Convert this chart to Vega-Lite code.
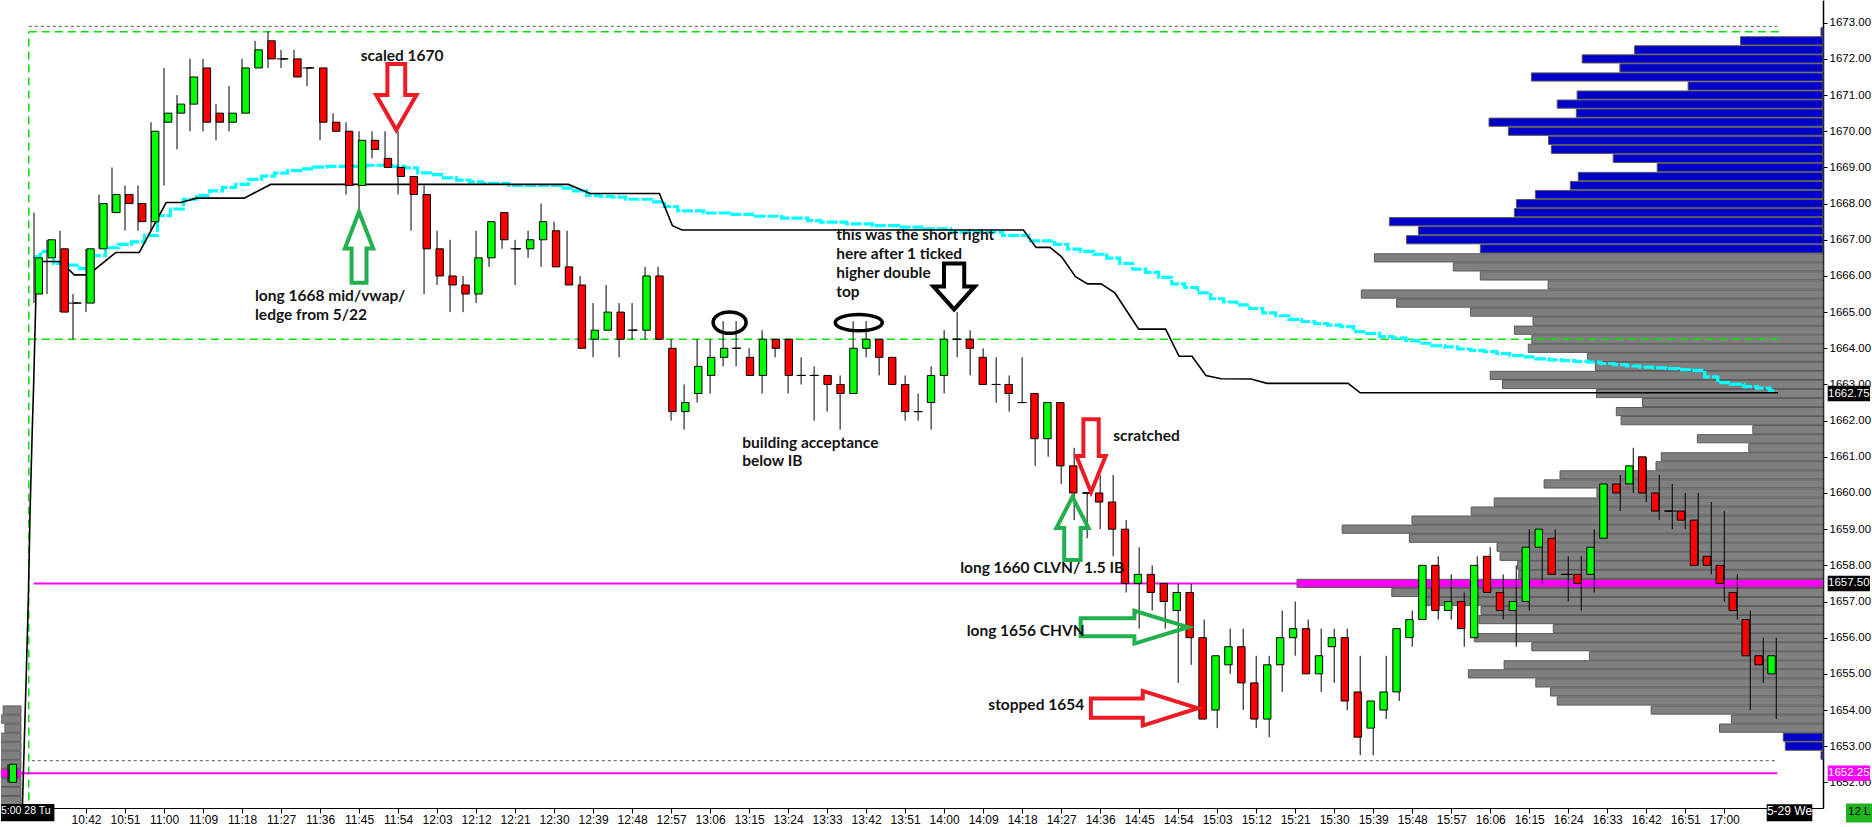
{
  "$schema": "https://vega.github.io/schema/vega-lite/v6.json",
  "width": 1822,
  "height": 808,
  "padding": 0,
  "autosize": {"type": "pad"},
  "background": "#ffffff",
  "config": {
    "view": {"stroke": null},
    "axis": {"grid": false, "domainColor": "#000000", "domainWidth": 1, "tickColor": "#000000", "tickSize": 5, "labelColor": "#000000", "labelFont": "Liberation Sans", "labelFontSize": 12, "labelPadding": 1, "labelOverlap": false},
    "axisY": {"tickCount": 22, "labelOverlap": false, "domainWidth": 1.5}
  },
  "datasets": {
    "candles": [
      {"t":624,"o":1652.0,"h":1652.5,"l":1652.0,"c":1652.5},
      {"t":630,"o":1665.5,"h":1667.75,"l":1665.25,"c":1666.5},
      {"t":633,"o":1666.5,"h":1667.0,"l":1665.5,"c":1667.0},
      {"t":636,"o":1666.75,"h":1667.25,"l":1665.0,"c":1665.0},
      {"t":639,"o":1665.25,"h":1665.5,"l":1664.25,"c":1665.25},
      {"t":642,"o":1665.25,"h":1666.75,"l":1665.0,"c":1666.75},
      {"t":645,"o":1666.75,"h":1668.25,"l":1666.75,"c":1668.0},
      {"t":648,"o":1667.75,"h":1669.0,"l":1667.75,"c":1668.25},
      {"t":651,"o":1668.25,"h":1668.5,"l":1667.25,"c":1668.0},
      {"t":654,"o":1668.0,"h":1668.5,"l":1667.25,"c":1667.5},
      {"t":657,"o":1667.5,"h":1670.25,"l":1667.25,"c":1670.0},
      {"t":660,"o":1670.25,"h":1671.75,"l":1668.5,"c":1670.5},
      {"t":663,"o":1670.5,"h":1671.0,"l":1669.5,"c":1670.75},
      {"t":666,"o":1670.75,"h":1672.0,"l":1670.0,"c":1671.5},
      {"t":669,"o":1671.75,"h":1672.0,"l":1670.0,"c":1670.25},
      {"t":672,"o":1670.5,"h":1670.75,"l":1669.75,"c":1670.25},
      {"t":675,"o":1670.25,"h":1671.25,"l":1670.0,"c":1670.5},
      {"t":678,"o":1670.5,"h":1672.0,"l":1670.5,"c":1671.75},
      {"t":681,"o":1671.75,"h":1672.5,"l":1671.75,"c":1672.25},
      {"t":684,"o":1672.5,"h":1672.75,"l":1671.75,"c":1672.0},
      {"t":687,"o":1672.0,"h":1672.25,"l":1671.75,"c":1672.0},
      {"t":690,"o":1672.0,"h":1672.25,"l":1671.5,"c":1671.5},
      {"t":693,"o":1671.75,"h":1671.75,"l":1671.25,"c":1671.75},
      {"t":696,"o":1671.75,"h":1671.75,"l":1669.75,"c":1670.25},
      {"t":699,"o":1670.25,"h":1670.5,"l":1670.0,"c":1670.0},
      {"t":702,"o":1670.0,"h":1670.25,"l":1668.25,"c":1668.5},
      {"t":705,"o":1668.5,"h":1670.0,"l":1667.75,"c":1669.75},
      {"t":708,"o":1669.75,"h":1670.0,"l":1669.25,"c":1669.5},
      {"t":711,"o":1669.25,"h":1670.0,"l":1669.0,"c":1669.0},
      {"t":714,"o":1669.0,"h":1670.0,"l":1668.25,"c":1668.75},
      {"t":717,"o":1668.75,"h":1668.75,"l":1667.25,"c":1668.25},
      {"t":720,"o":1668.25,"h":1668.5,"l":1665.5,"c":1666.75},
      {"t":723,"o":1666.75,"h":1667.25,"l":1665.75,"c":1666.0},
      {"t":726,"o":1666.0,"h":1667.0,"l":1665.0,"c":1665.75},
      {"t":729,"o":1665.75,"h":1666.0,"l":1665.0,"c":1665.5},
      {"t":732,"o":1665.5,"h":1667.25,"l":1665.25,"c":1666.5},
      {"t":735,"o":1666.5,"h":1667.5,"l":1666.25,"c":1667.5},
      {"t":738,"o":1667.75,"h":1667.75,"l":1666.75,"c":1667.0},
      {"t":741,"o":1666.75,"h":1667.0,"l":1665.75,"c":1666.75},
      {"t":744,"o":1666.75,"h":1667.25,"l":1666.5,"c":1667.0},
      {"t":747,"o":1667.0,"h":1668.0,"l":1666.25,"c":1667.5},
      {"t":750,"o":1667.25,"h":1667.5,"l":1666.25,"c":1666.25},
      {"t":753,"o":1666.25,"h":1667.25,"l":1665.75,"c":1665.75},
      {"t":756,"o":1665.75,"h":1666.0,"l":1664.0,"c":1664.0},
      {"t":759,"o":1664.25,"h":1665.25,"l":1663.75,"c":1664.5},
      {"t":762,"o":1664.5,"h":1665.75,"l":1664.5,"c":1665.0},
      {"t":765,"o":1665.0,"h":1665.25,"l":1663.75,"c":1664.25},
      {"t":768,"o":1664.5,"h":1665.25,"l":1664.25,"c":1664.5},
      {"t":771,"o":1664.5,"h":1666.25,"l":1664.25,"c":1666.0},
      {"t":774,"o":1666.0,"h":1666.25,"l":1664.25,"c":1664.25},
      {"t":777,"o":1664.0,"h":1664.25,"l":1662.0,"c":1662.25},
      {"t":780,"o":1662.25,"h":1663.0,"l":1661.75,"c":1662.5},
      {"t":783,"o":1662.75,"h":1664.25,"l":1662.5,"c":1663.5},
      {"t":786,"o":1663.25,"h":1664.25,"l":1662.75,"c":1663.75},
      {"t":789,"o":1663.75,"h":1664.75,"l":1663.5,"c":1664.0},
      {"t":792,"o":1664.0,"h":1664.75,"l":1663.5,"c":1664.0},
      {"t":795,"o":1663.75,"h":1664.0,"l":1663.25,"c":1663.25},
      {"t":798,"o":1663.25,"h":1664.5,"l":1662.75,"c":1664.25},
      {"t":801,"o":1664.25,"h":1664.25,"l":1663.75,"c":1664.0},
      {"t":804,"o":1664.25,"h":1664.25,"l":1662.75,"c":1663.25},
      {"t":807,"o":1663.25,"h":1663.75,"l":1663.0,"c":1663.25},
      {"t":810,"o":1663.25,"h":1663.5,"l":1662.0,"c":1663.25},
      {"t":813,"o":1663.25,"h":1663.25,"l":1662.25,"c":1663.0},
      {"t":816,"o":1663.0,"h":1663.25,"l":1661.75,"c":1662.75},
      {"t":819,"o":1662.75,"h":1664.75,"l":1662.75,"c":1664.0},
      {"t":822,"o":1664.0,"h":1664.75,"l":1663.75,"c":1664.25},
      {"t":825,"o":1664.25,"h":1664.25,"l":1663.25,"c":1663.75},
      {"t":828,"o":1663.75,"h":1663.75,"l":1663.0,"c":1663.0},
      {"t":831,"o":1663.0,"h":1663.25,"l":1662.0,"c":1662.25},
      {"t":834,"o":1662.25,"h":1662.75,"l":1662.0,"c":1662.25},
      {"t":837,"o":1662.5,"h":1663.5,"l":1661.75,"c":1663.25},
      {"t":840,"o":1663.25,"h":1664.5,"l":1662.75,"c":1664.25},
      {"t":843,"o":1664.25,"h":1665.0,"l":1663.75,"c":1664.25},
      {"t":846,"o":1664.25,"h":1664.5,"l":1663.25,"c":1664.0},
      {"t":849,"o":1663.75,"h":1664.0,"l":1663.0,"c":1663.0},
      {"t":852,"o":1663.0,"h":1663.75,"l":1662.5,"c":1663.0},
      {"t":855,"o":1663.0,"h":1663.25,"l":1662.25,"c":1662.75},
      {"t":858,"o":1662.5,"h":1663.75,"l":1662.5,"c":1662.5},
      {"t":861,"o":1662.75,"h":1662.75,"l":1660.75,"c":1661.5},
      {"t":864,"o":1661.5,"h":1662.5,"l":1661.0,"c":1662.5},
      {"t":867,"o":1662.5,"h":1662.5,"l":1660.25,"c":1660.75},
      {"t":870,"o":1660.75,"h":1661.25,"l":1659.25,"c":1660.0},
      {"t":873,"o":1660.0,"h":1660.0,"l":1658.75,"c":1660.0},
      {"t":876,"o":1660.0,"h":1660.5,"l":1659.0,"c":1659.75},
      {"t":879,"o":1659.75,"h":1660.5,"l":1658.25,"c":1659.0},
      {"t":882,"o":1659.0,"h":1659.25,"l":1657.25,"c":1657.5},
      {"t":885,"o":1657.5,"h":1658.5,"l":1656.25,"c":1657.75},
      {"t":888,"o":1657.75,"h":1658.0,"l":1656.75,"c":1657.25},
      {"t":891,"o":1657.5,"h":1657.5,"l":1656.25,"c":1657.0},
      {"t":894,"o":1656.75,"h":1657.5,"l":1654.75,"c":1657.25},
      {"t":897,"o":1657.25,"h":1657.5,"l":1655.25,"c":1656.0},
      {"t":900,"o":1656.0,"h":1656.5,"l":1653.75,"c":1653.75},
      {"t":903,"o":1654.0,"h":1655.5,"l":1653.5,"c":1655.5},
      {"t":906,"o":1655.25,"h":1656.25,"l":1655.0,"c":1655.75},
      {"t":909,"o":1655.75,"h":1656.25,"l":1654.0,"c":1654.75},
      {"t":912,"o":1654.75,"h":1655.5,"l":1653.5,"c":1653.75},
      {"t":915,"o":1653.75,"h":1655.5,"l":1653.25,"c":1655.25},
      {"t":918,"o":1655.25,"h":1656.75,"l":1654.5,"c":1656.0},
      {"t":921,"o":1656.0,"h":1657.0,"l":1655.5,"c":1656.25},
      {"t":924,"o":1656.25,"h":1656.5,"l":1655.0,"c":1655.0},
      {"t":927,"o":1655.0,"h":1656.25,"l":1654.5,"c":1655.5},
      {"t":930,"o":1655.75,"h":1656.25,"l":1654.75,"c":1656.0},
      {"t":933,"o":1656.0,"h":1656.25,"l":1654.0,"c":1654.25},
      {"t":936,"o":1654.5,"h":1655.5,"l":1652.75,"c":1653.25},
      {"t":939,"o":1653.5,"h":1654.25,"l":1652.75,"c":1654.25},
      {"t":942,"o":1654.0,"h":1655.5,"l":1653.75,"c":1654.5},
      {"t":945,"o":1654.5,"h":1656.25,"l":1654.25,"c":1656.25},
      {"t":948,"o":1656.0,"h":1656.75,"l":1655.75,"c":1656.5},
      {"t":951,"o":1656.5,"h":1658.0,"l":1656.5,"c":1658.0},
      {"t":954,"o":1658.0,"h":1658.25,"l":1656.5,"c":1656.75},
      {"t":957,"o":1656.75,"h":1657.75,"l":1656.5,"c":1657.0},
      {"t":960,"o":1657.0,"h":1657.25,"l":1655.75,"c":1656.25},
      {"t":963,"o":1656.0,"h":1658.25,"l":1656.0,"c":1658.0},
      {"t":966,"o":1658.25,"h":1658.5,"l":1657.25,"c":1657.25},
      {"t":969,"o":1657.25,"h":1657.75,"l":1656.5,"c":1656.75},
      {"t":972,"o":1656.75,"h":1658.0,"l":1655.75,"c":1657.0},
      {"t":975,"o":1657.0,"h":1659.0,"l":1656.75,"c":1658.5},
      {"t":978,"o":1658.5,"h":1659.0,"l":1657.5,"c":1659.0},
      {"t":981,"o":1658.75,"h":1659.0,"l":1657.75,"c":1657.75},
      {"t":984,"o":1657.75,"h":1658.25,"l":1657.0,"c":1657.75},
      {"t":987,"o":1657.75,"h":1658.25,"l":1656.75,"c":1657.5},
      {"t":990,"o":1657.75,"h":1659.0,"l":1657.25,"c":1658.5},
      {"t":993,"o":1658.75,"h":1660.25,"l":1658.75,"c":1660.25},
      {"t":996,"o":1660.25,"h":1660.5,"l":1659.5,"c":1660.0},
      {"t":999,"o":1660.25,"h":1661.25,"l":1660.0,"c":1660.75},
      {"t":1002,"o":1661.0,"h":1661.0,"l":1659.75,"c":1660.0},
      {"t":1005,"o":1660.0,"h":1660.5,"l":1659.25,"c":1659.5},
      {"t":1008,"o":1659.5,"h":1660.25,"l":1659.0,"c":1659.5},
      {"t":1011,"o":1659.5,"h":1660.0,"l":1659.0,"c":1659.25},
      {"t":1014,"o":1659.25,"h":1660.0,"l":1658.0,"c":1658.0},
      {"t":1017,"o":1658.25,"h":1659.75,"l":1657.75,"c":1658.0},
      {"t":1020,"o":1658.0,"h":1659.5,"l":1657.0,"c":1657.5},
      {"t":1023,"o":1657.25,"h":1657.75,"l":1656.5,"c":1656.75},
      {"t":1026,"o":1656.5,"h":1656.75,"l":1654.0,"c":1655.5},
      {"t":1029,"o":1655.5,"h":1656.0,"l":1654.75,"c":1655.25},
      {"t":1032,"o":1655.0,"h":1656.0,"l":1653.75,"c":1655.5}
    ],
    "cyan": [
      {"t":630,"p":1666.53},{"t":633,"p":1666.67},{"t":636,"p":1666.35},{"t":639,"p":1666.3},{"t":642,"p":1666.2},
      {"t":645,"p":1666.56},{"t":648,"p":1666.78},{"t":651,"p":1666.87},{"t":654,"p":1666.94},{"t":657,"p":1667.12},
      {"t":660,"p":1667.67},{"t":663,"p":1667.85},{"t":666,"p":1668.12},{"t":669,"p":1668.23},{"t":672,"p":1668.35},
      {"t":675,"p":1668.45},{"t":678,"p":1668.53},{"t":681,"p":1668.67},{"t":684,"p":1668.76},{"t":687,"p":1668.84},
      {"t":690,"p":1668.91},{"t":693,"p":1668.96},{"t":696,"p":1669.01},{"t":699,"p":1669.03},{"t":702,"p":1669.03},
      {"t":705,"p":1669.03},{"t":708,"p":1669.06},{"t":711,"p":1669.06},{"t":714,"p":1669.03},{"t":717,"p":1668.99},
      {"t":720,"p":1668.85},{"t":723,"p":1668.8},{"t":726,"p":1668.71},{"t":729,"p":1668.65},{"t":732,"p":1668.6},
      {"t":735,"p":1668.56},{"t":738,"p":1668.56},{"t":741,"p":1668.5},{"t":744,"p":1668.5},{"t":747,"p":1668.5},
      {"t":750,"p":1668.5},{"t":753,"p":1668.43},{"t":756,"p":1668.35},{"t":759,"p":1668.23},{"t":762,"p":1668.2},
      {"t":765,"p":1668.18},{"t":768,"p":1668.12},{"t":771,"p":1668.12},{"t":774,"p":1668.05},{"t":777,"p":1667.92},
      {"t":780,"p":1667.8},{"t":783,"p":1667.8},{"t":786,"p":1667.74},{"t":789,"p":1667.74},{"t":792,"p":1667.7},
      {"t":795,"p":1667.7},{"t":798,"p":1667.65},{"t":801,"p":1667.65},{"t":804,"p":1667.6},{"t":807,"p":1667.6},
      {"t":810,"p":1667.53},{"t":813,"p":1667.49},{"t":816,"p":1667.49},{"t":819,"p":1667.44},{"t":822,"p":1667.44},
      {"t":825,"p":1667.39},{"t":828,"p":1667.39},{"t":831,"p":1667.35},{"t":834,"p":1667.35},{"t":837,"p":1667.3},
      {"t":840,"p":1667.3},{"t":843,"p":1667.21},{"t":846,"p":1667.21},{"t":849,"p":1667.21},{"t":852,"p":1667.21},
      {"t":855,"p":1667.12},{"t":858,"p":1667.12},{"t":861,"p":1666.97},{"t":864,"p":1666.97},{"t":867,"p":1666.87},
      {"t":870,"p":1666.74},{"t":873,"p":1666.68},{"t":876,"p":1666.6},{"t":879,"p":1666.49},{"t":882,"p":1666.35},
      {"t":885,"p":1666.19},{"t":888,"p":1666.1},{"t":891,"p":1665.96},{"t":894,"p":1665.78},{"t":897,"p":1665.68},
      {"t":900,"p":1665.53},{"t":903,"p":1665.37},{"t":906,"p":1665.28},{"t":909,"p":1665.2},{"t":912,"p":1665.1},
      {"t":915,"p":1664.98},{"t":918,"p":1664.9},{"t":921,"p":1664.8},{"t":924,"p":1664.74},{"t":927,"p":1664.68},
      {"t":930,"p":1664.64},{"t":933,"p":1664.6},{"t":936,"p":1664.46},{"t":939,"p":1664.41},{"t":942,"p":1664.32},
      {"t":945,"p":1664.28},{"t":948,"p":1664.21},{"t":951,"p":1664.14},{"t":954,"p":1664.07},{"t":957,"p":1664.04},
      {"t":960,"p":1663.98},{"t":963,"p":1663.94},{"t":966,"p":1663.91},{"t":969,"p":1663.85},{"t":972,"p":1663.8},
      {"t":975,"p":1663.76},{"t":978,"p":1663.71},{"t":981,"p":1663.68},{"t":984,"p":1663.66},{"t":987,"p":1663.64},
      {"t":990,"p":1663.62},{"t":993,"p":1663.58},{"t":996,"p":1663.55},{"t":999,"p":1663.51},{"t":1002,"p":1663.48},
      {"t":1005,"p":1663.46},{"t":1008,"p":1663.44},{"t":1011,"p":1663.41},{"t":1014,"p":1663.39},{"t":1017,"p":1663.21},
      {"t":1020,"p":1663.05},{"t":1023,"p":1663.01},{"t":1026,"p":1662.94},{"t":1029,"p":1662.9},{"t":1032,"p":1662.83}
    ],
    "blackline": [
      {"t":627.3,"p":1651.2},{"t":628.2,"p":1654.9},{"t":628.7,"p":1657.1},{"t":629.1,"p":1659.5},{"t":629.6,"p":1661.75},
      {"t":629.9,"p":1662.9},{"t":630.4,"p":1665.25},{"t":630.6,"p":1666.4},{"t":636.1,"p":1666.4},{"t":639.3,"p":1666.03},
      {"t":642.5,"p":1666.03},{"t":648.9,"p":1666.65},{"t":654.3,"p":1666.65},{"t":660.5,"p":1668.03},{"t":663.9,"p":1668.03},
      {"t":667.5,"p":1668.15},{"t":678.5,"p":1668.15},{"t":684.6,"p":1668.53},{"t":753.3,"p":1668.53},{"t":758.3,"p":1668.28},
      {"t":774.3,"p":1668.28},{"t":777.3,"p":1667.39},{"t":779.5,"p":1667.27},{"t":858.3,"p":1667.27},{"t":861.2,"p":1666.79},
      {"t":864.4,"p":1666.79},{"t":867.1,"p":1666.53},{"t":870.3,"p":1665.98},{"t":873.1,"p":1665.78},{"t":876.2,"p":1665.78},
      {"t":879.4,"p":1665.53},{"t":884.9,"p":1664.53},{"t":891.1,"p":1664.53},{"t":894.2,"p":1663.78},{"t":897.2,"p":1663.78},
      {"t":900.4,"p":1663.25},{"t":903.9,"p":1663.16},{"t":910.8,"p":1663.15},{"t":914.5,"p":1663.03},{"t":933.2,"p":1663.03},
      {"t":936.0,"p":1662.77},{"t":1032.4,"p":1662.77}
    ],
    "profile": [
      {"price":1672.75,"vol":20,"zone":"out"},{"price":1672.5,"vol":825,"zone":"out"},{"price":1672.25,"vol":1884,"zone":"out"},
      {"price":1672.0,"vol":2408,"zone":"out"},{"price":1671.75,"vol":2031,"zone":"out"},{"price":1671.5,"vol":2916,"zone":"out"},
      {"price":1671.25,"vol":1349,"zone":"out"},{"price":1671.0,"vol":2459,"zone":"out"},{"price":1670.75,"vol":2658,"zone":"out"},
      {"price":1670.5,"vol":2467,"zone":"out"},{"price":1670.25,"vol":3340,"zone":"out"},{"price":1670.0,"vol":3146,"zone":"out"},
      {"price":1669.75,"vol":2745,"zone":"out"},{"price":1669.5,"vol":2717,"zone":"out"},{"price":1669.25,"vol":2098,"zone":"out"},
      {"price":1669.0,"vol":1658,"zone":"out"},{"price":1668.75,"vol":2447,"zone":"out"},{"price":1668.5,"vol":2527,"zone":"out"},
      {"price":1668.25,"vol":2876,"zone":"out"},{"price":1668.0,"vol":3066,"zone":"out"},{"price":1667.75,"vol":3086,"zone":"out"},
      {"price":1667.5,"vol":4336,"zone":"out"},{"price":1667.25,"vol":4046,"zone":"out"},{"price":1667.0,"vol":4165,"zone":"out"},
      {"price":1666.75,"vol":3427,"zone":"out"},
      {"price":1666.5,"vol":4486,"zone":"va"},{"price":1666.25,"vol":3697,"zone":"va"},{"price":1666.0,"vol":3427,"zone":"va"},
      {"price":1665.75,"vol":2749,"zone":"va"},{"price":1665.5,"vol":4617,"zone":"va"},{"price":1665.25,"vol":4264,"zone":"va"},
      {"price":1665.0,"vol":3526,"zone":"va"},{"price":1664.75,"vol":2900,"zone":"va"},{"price":1664.5,"vol":3086,"zone":"va"},
      {"price":1664.25,"vol":2912,"zone":"va"},{"price":1664.0,"vol":2947,"zone":"va"},{"price":1663.75,"vol":2356,"zone":"va"},
      {"price":1663.5,"vol":2277,"zone":"va"},{"price":1663.25,"vol":3328,"zone":"va"},{"price":1663.0,"vol":3205,"zone":"va"},
      {"price":1662.75,"vol":2265,"zone":"va"},{"price":1662.5,"vol":1805,"zone":"va"},{"price":1662.25,"vol":2067,"zone":"va"},
      {"price":1662.0,"vol":2019,"zone":"va"},{"price":1661.75,"vol":702,"zone":"va"},{"price":1661.5,"vol":1257,"zone":"va"},
      {"price":1661.25,"vol":742,"zone":"va"},{"price":1661.0,"vol":1618,"zone":"va"},{"price":1660.75,"vol":1670,"zone":"va"},
      {"price":1660.5,"vol":2630,"zone":"va"},{"price":1660.25,"vol":2789,"zone":"va"},{"price":1660.0,"vol":2261,"zone":"va"},
      {"price":1659.75,"vol":3288,"zone":"va"},{"price":1659.5,"vol":3518,"zone":"va"},{"price":1659.25,"vol":4110,"zone":"va"},
      {"price":1659.0,"vol":4808,"zone":"va"},{"price":1658.75,"vol":4137,"zone":"va"},{"price":1658.5,"vol":3260,"zone":"va"},
      {"price":1658.25,"vol":3229,"zone":"va"},{"price":1658.0,"vol":3054,"zone":"va"},{"price":1657.75,"vol":3042,"zone":"va"},
      {"price":1657.5,"vol":5260,"zone":"poc"},{"price":1657.25,"vol":4312,"zone":"va"},{"price":1657.0,"vol":4034,"zone":"va"},
      {"price":1656.75,"vol":3420,"zone":"va"},{"price":1656.5,"vol":3440,"zone":"va"},{"price":1656.25,"vol":2697,"zone":"va"},
      {"price":1656.0,"vol":3487,"zone":"va"},{"price":1655.75,"vol":2912,"zone":"va"},{"price":1655.5,"vol":2336,"zone":"va"},
      {"price":1655.25,"vol":3189,"zone":"va"},{"price":1655.0,"vol":3546,"zone":"va"},{"price":1654.75,"vol":2872,"zone":"va"},
      {"price":1654.5,"vol":2725,"zone":"va"},{"price":1654.25,"vol":2658,"zone":"va"},{"price":1654.0,"vol":1718,"zone":"va"},
      {"price":1653.75,"vol":916,"zone":"va"},{"price":1653.5,"vol":1035,"zone":"va"},
      {"price":1653.25,"vol":397,"zone":"out"},{"price":1653.0,"vol":377,"zone":"out"},{"price":1652.75,"vol":20,"zone":"out"}
    ],
    "leftprof": [
      {"price":1654.0,"t0":622.9,"t1":627.0,"zone":"va"},{"price":1653.75,"t0":622.0,"t1":627.0,"zone":"va"},
      {"price":1653.5,"t0":623.3,"t1":627.0,"zone":"va"},{"price":1653.25,"t0":622.0,"t1":627.0,"zone":"va"},
      {"price":1653.0,"t0":622.0,"t1":627.0,"zone":"va"},{"price":1652.75,"t0":622.0,"t1":627.0,"zone":"va"},
      {"price":1652.5,"t0":622.0,"t1":627.0,"zone":"va"},{"price":1652.25,"t0":622.0,"t1":627.0,"zone":"poc"},
      {"price":1652.0,"t0":622.0,"t1":627.0,"zone":"va"},{"price":1651.75,"t0":622.0,"t1":627.0,"zone":"va"},
      {"price":1651.5,"t0":622.0,"t1":627.0,"zone":"va"}
    ],
    "hlines": [
      {"kind":"green","p":1672.75,"t0":628.8,"t1":1033.3},
      {"kind":"green","p":1664.25,"t0":628.8,"t1":1033.3},
      {"kind":"gray","p":1672.9,"t0":628.8,"t1":1032.2},
      {"kind":"gray","p":1652.6,"t0":629.5,"t1":1032.2},
      {"kind":"magenta","p":1652.25,"t0":622.39,"t1":1032.2},
      {"kind":"magenta","p":1657.5,"t0":630.0,"t1":921.4}
    ],
    "notes": [
      {"t":705.4,"p":1671.94,"txt":"scaled 1670"},
      {"t":681.0,"p":1665.3,"txt":"long 1668 mid/vwap/"},
      {"t":681.0,"p":1664.78,"txt":"ledge from 5/22"},
      {"t":815.1,"p":1666.99,"txt":"this was the short right"},
      {"t":815.1,"p":1666.47,"txt":"here after 1 ticked"},
      {"t":815.1,"p":1665.94,"txt":"higher double"},
      {"t":815.1,"p":1665.41,"txt":"top"},
      {"t":793.4,"p":1661.25,"txt":"building acceptance"},
      {"t":793.4,"p":1660.75,"txt":"below IB"},
      {"t":879.0,"p":1661.43,"txt":"scratched"},
      {"t":843.7,"p":1657.78,"txt":"long 1660 CLVN/ 1.5 IB"},
      {"t":845.2,"p":1656.05,"txt":"long 1656 CHVN"},
      {"t":850.2,"p":1654.0,"txt":"stopped 1654"}
    ],
    "tags": [
      {"p":1662.75,"txt":"1662.75","bg":"black"},
      {"p":1657.5,"txt":"1657.50","bg":"black"},
      {"p":1652.25,"txt":"1652.25","bg":"magenta"}
    ]
  },
  "layer": [
    {
      "data": {"name": "profile"},
      "mark": {"type": "bar", "size": 8.2, "stroke": "#5a5a5a", "strokeWidth": 1},
      "encoding": {
        "x": {"field": "vol", "type": "quantitative", "scale": {"domain": [0, 18220], "reverse": true, "nice": false, "zero": false}, "axis": null},
        "x2": {"datum": 0},
        "y": {"field": "price", "type": "quantitative", "scale": {"domain": [1651.43, 1673.49], "nice": false, "zero": false}, "title": null,
              "axis": {"title": null, "orient": "right", "values": [1652,1653,1654,1655,1656,1657,1658,1659,1660,1661,1662,1663,1664,1665,1666,1667,1668,1669,1670,1671,1672,1673], "tickCount": 22, "format": ".2f", "tickSize": 4, "labelPadding": 2, "labelFontSize": 11.5, "labelOverlap": false}},
        "color": {"field": "zone", "type": "nominal", "scale": {"domain": ["out", "va", "poc"], "range": ["#0000C8", "#808080", "#FF00FF"]}, "legend": null}
      }
    },
    {
      "data": {"name": "leftprof"},
      "mark": {"type": "bar", "size": 8.2, "stroke": "#5a5a5a", "strokeWidth": 1, "clip": true},
      "encoding": {
        "x": {"field": "t0", "type": "quantitative", "scale": {"domain": [622.39, 1042.78], "nice": false, "zero": false}, "axis": null},
        "x2": {"field": "t1"},
        "y": {"field": "price", "type": "quantitative", "title": null},
        "color": {"field": "zone", "type": "nominal", "scale": {"domain": ["out", "va", "poc"], "range": ["#0000C8", "#808080", "#FF00FF"]}, "legend": null}
      }
    },
    {
      "data": {"values": [{"t": 628.8, "p0": 1651.5, "p1": 1672.75}]},
      "mark": {"type": "rule", "color": "#00E400", "strokeWidth": 1.5, "strokeDash": [8, 5]},
      "encoding": {
        "x": {"field": "t", "type": "quantitative", "scale": {"domain": [622.39, 1042.78], "nice": false, "zero": false}, "axis": null},
        "y": {"field": "p0", "type": "quantitative", "title": null},
        "y2": {"field": "p1"}
      }
    },
    {
      "data": {"name": "hlines"},
      "transform": [{"filter": "datum.kind == 'green'"}],
      "mark": {"type": "rule", "color": "#00E400", "strokeWidth": 1.5, "strokeDash": [8, 5]},
      "encoding": {
        "x": {"field": "t0", "type": "quantitative", "scale": {"domain": [622.39, 1042.78], "nice": false, "zero": false}, "axis": null},
        "x2": {"field": "t1"},
        "y": {"field": "p", "type": "quantitative", "title": null}
      }
    },
    {
      "data": {"name": "hlines"},
      "transform": [{"filter": "datum.kind == 'gray'"}],
      "mark": {"type": "rule", "color": "#555555", "strokeWidth": 1, "strokeDash": [3, 3]},
      "encoding": {
        "x": {"field": "t0", "type": "quantitative", "scale": {"domain": [622.39, 1042.78], "nice": false, "zero": false}, "axis": null},
        "x2": {"field": "t1"},
        "y": {"field": "p", "type": "quantitative", "title": null}
      }
    },
    {
      "data": {"name": "hlines"},
      "transform": [{"filter": "datum.kind == 'magenta'"}],
      "mark": {"type": "rule", "color": "#FF00FF", "strokeWidth": 2},
      "encoding": {
        "x": {"field": "t0", "type": "quantitative", "scale": {"domain": [622.39, 1042.78], "nice": false, "zero": false}, "axis": null},
        "x2": {"field": "t1"},
        "y": {"field": "p", "type": "quantitative", "title": null}
      }
    },
    {
      "data": {"name": "cyan"},
      "mark": {"type": "line", "color": "#00FFFF", "strokeWidth": 3.2, "strokeDash": [11, 2], "interpolate": "step"},
      "encoding": {
        "x": {"field": "t", "type": "quantitative", "scale": {"domain": [622.39, 1042.78], "nice": false, "zero": false}, "axis": null},
        "y": {"field": "p", "type": "quantitative", "title": null}
      }
    },
    {
      "data": {"name": "blackline"},
      "mark": {"type": "line", "color": "#000000", "strokeWidth": 1.6, "clip": true},
      "encoding": {
        "x": {"field": "t", "type": "quantitative", "scale": {"domain": [622.39, 1042.78], "nice": false, "zero": false}, "axis": null},
        "y": {"field": "p", "type": "quantitative", "title": null}
      }
    },
    {
      "data": {"name": "candles"},
      "mark": {"type": "rule", "color": "#000000", "strokeWidth": 1},
      "encoding": {
        "x": {"field": "t", "type": "quantitative", "scale": {"domain": [622.39, 1042.78], "nice": false, "zero": false},
              "axis": {"title": null, "orient": "bottom", "values": [642,651,660,669,678,687,696,705,714,723,732,741,750,759,768,777,786,795,804,813,822,831,840,849,858,867,876,885,894,903,912,921,930,939,948,957,966,975,984,993,1002,1011,1020],
                       "labelExpr": "floor(datum.value / 60) + ':' + (datum.value % 60 < 10 ? '0' : '') + (datum.value % 60)", "labelFlush": false, "labelOverlap": false}},
        "y": {"field": "l", "type": "quantitative", "scale": {"domain": [1651.43, 1673.49], "nice": false, "zero": false}, "title": null,
              "axis": {"title": null, "orient": "right", "values": [1652,1653,1654,1655,1656,1657,1658,1659,1660,1661,1662,1663,1664,1665,1666,1667,1668,1669,1670,1671,1672,1673], "tickCount": 22, "format": ".2f", "tickSize": 4, "labelPadding": 2, "labelFontSize": 11.5, "labelOverlap": false}},
        "y2": {"field": "h"}
      }
    },
    {
      "data": {"name": "candles"},
      "mark": {"type": "bar", "size": 7.4, "stroke": "#000000", "strokeWidth": 1},
      "encoding": {
        "x": {"field": "t", "type": "quantitative", "scale": {"domain": [622.39, 1042.78], "nice": false, "zero": false}, "axis": null},
        "y": {"field": "o", "type": "quantitative", "title": null},
        "y2": {"field": "c"},
        "color": {"condition": {"test": "datum.c > datum.o", "value": "#00FF00"}, "value": "#FF0000"}
      }
    },
    {
      "data": {"name": "candles"},
      "transform": [{"filter": "datum.o == datum.c"}],
      "mark": {"type": "tick", "orient": "horizontal", "size": 9, "thickness": 1, "color": "#000000", "opacity": 1},
      "encoding": {
        "x": {"field": "t", "type": "quantitative", "scale": {"domain": [622.39, 1042.78], "nice": false, "zero": false}, "axis": null},
        "y": {"field": "c", "type": "quantitative", "title": null}
      }
    },
    {
      "data": {"values": [{"t": 713.6, "p": 1670.95}]},
      "mark": {"type": "point", "shape": "M -0.27 -1 L 0.27 -1 L 0.27 -0.06 L 0.61 -0.06 L 0 1 L -0.61 -0.06 L -0.27 -0.06 Z", "size": 4356, "filled": false, "stroke": "#ED1C24", "strokeWidth": 4, "opacity": 1, "strokeJoin": "miter"},
      "encoding": {"x": {"field": "t", "type": "quantitative", "scale": {"domain": [622.39, 1042.78], "nice": false, "zero": false}, "axis": null}, "y": {"field": "p", "type": "quantitative", "title": null}}
    },
    {
      "data": {"values": [{"t": 705.0, "p": 1666.79}]},
      "mark": {"type": "point", "shape": "M 0 -1 L 0.4 0.03 L 0.21 0.03 L 0.21 1 L -0.21 1 L -0.21 0.03 L -0.4 0.03 Z", "size": 5041, "filled": false, "stroke": "#22B14C", "strokeWidth": 4, "opacity": 1, "strokeJoin": "miter"},
      "encoding": {"x": {"field": "t", "type": "quantitative", "scale": {"domain": [622.39, 1042.78], "nice": false, "zero": false}, "axis": null}, "y": {"field": "p", "type": "quantitative", "title": null}}
    },
    {
      "data": {"values": [{"t": 842.3, "p": 1665.71}]},
      "mark": {"type": "point", "shape": "M -0.44 -1 L 0.44 -1 L 0.44 0 L 0.9 0 L 0 1 L -0.9 0 L -0.44 0 Z", "size": 2116, "filled": false, "stroke": "#000000", "strokeWidth": 4, "opacity": 1, "strokeJoin": "miter"},
      "encoding": {"x": {"field": "t", "type": "quantitative", "scale": {"domain": [622.39, 1042.78], "nice": false, "zero": false}, "axis": null}, "y": {"field": "p", "type": "quantitative", "title": null}}
    },
    {
      "data": {"values": [{"t": 873.9, "p": 1661.03}]},
      "mark": {"type": "point", "shape": "M -0.21 -1 L 0.21 -1 L 0.21 0.01 L 0.4 0.01 L 0 1 L -0.4 0.01 L -0.21 0.01 Z", "size": 5329, "filled": false, "stroke": "#ED1C24", "strokeWidth": 4, "opacity": 1, "strokeJoin": "miter"},
      "encoding": {"x": {"field": "t", "type": "quantitative", "scale": {"domain": [622.39, 1042.78], "nice": false, "zero": false}, "axis": null}, "y": {"field": "p", "type": "quantitative", "title": null}}
    },
    {
      "data": {"values": [{"t": 869.6, "p": 1659.02}]},
      "mark": {"type": "point", "shape": "M 0 -1 L 0.51 -0.01 L 0.26 -0.01 L 0.26 1 L -0.26 1 L -0.26 -0.01 L -0.51 -0.01 Z", "size": 3969, "filled": false, "stroke": "#22B14C", "strokeWidth": 4, "opacity": 1, "strokeJoin": "miter"},
      "encoding": {"x": {"field": "t", "type": "quantitative", "scale": {"domain": [622.39, 1042.78], "nice": false, "zero": false}, "axis": null}, "y": {"field": "p", "type": "quantitative", "title": null}}
    },
    {
      "data": {"values": [{"t": 883.9, "p": 1656.29}]},
      "mark": {"type": "point", "shape": "M -1 -0.167 L 0 -0.167 L 0 -0.305 L 1 0 L 0 0.305 L 0 0.167 L -1 0.167 Z", "size": 11556, "filled": false, "stroke": "#22B14C", "strokeWidth": 4, "opacity": 1, "strokeJoin": "miter"},
      "encoding": {"x": {"field": "t", "type": "quantitative", "scale": {"domain": [622.39, 1042.78], "nice": false, "zero": false}, "axis": null}, "y": {"field": "p", "type": "quantitative", "title": null}}
    },
    {
      "data": {"values": [{"t": 886.2, "p": 1654.05}]},
      "mark": {"type": "point", "shape": "M -1 -0.18 L -0.03 -0.18 L -0.03 -0.324 L 1 0 L -0.03 0.324 L -0.03 0.18 L -1 0.18 Z", "size": 11449, "filled": false, "stroke": "#ED1C24", "strokeWidth": 4, "opacity": 1, "strokeJoin": "miter"},
      "encoding": {"x": {"field": "t", "type": "quantitative", "scale": {"domain": [622.39, 1042.78], "nice": false, "zero": false}, "axis": null}, "y": {"field": "p", "type": "quantitative", "title": null}}
    },
    {
      "data": {"values": [{"t": 790.5, "p": 1664.71}]},
      "mark": {"type": "point", "shape": "M -1 0 A 1 0.65 0 1 1 1 0 A 1 0.65 0 1 1 -1 0 Z", "size": 1089, "filled": false, "stroke": "#000000", "strokeWidth": 3.5, "opacity": 1},
      "encoding": {"x": {"field": "t", "type": "quantitative", "scale": {"domain": [622.39, 1042.78], "nice": false, "zero": false}, "axis": null}, "y": {"field": "p", "type": "quantitative", "title": null}}
    },
    {
      "data": {"values": [{"t": 820.3, "p": 1664.71}]},
      "mark": {"type": "point", "shape": "M -1 0 A 1 0.35 0 1 1 1 0 A 1 0.35 0 1 1 -1 0 Z", "size": 2209, "filled": false, "stroke": "#000000", "strokeWidth": 3.5, "opacity": 1},
      "encoding": {"x": {"field": "t", "type": "quantitative", "scale": {"domain": [622.39, 1042.78], "nice": false, "zero": false}, "axis": null}, "y": {"field": "p", "type": "quantitative", "title": null}}
    },
    {
      "data": {"name": "notes"},
      "mark": {"type": "text", "align": "left", "baseline": "alphabetic", "font": "Lato", "fontSize": 15.5, "fontWeight": "bold", "color": "#141414"},
      "encoding": {
        "x": {"field": "t", "type": "quantitative", "scale": {"domain": [622.39, 1042.78], "nice": false, "zero": false}, "axis": null},
        "y": {"field": "p", "type": "quantitative", "title": null},
        "text": {"field": "txt"}
      }
    },
    {
      "data": {"name": "tags"},
      "transform": [{"filter": "datum.bg == 'black'"}],
      "mark": {"type": "point", "shape": "M 0.2 -0.33 L 2 -0.33 L 2 0.33 L 0.2 0.33 Z", "size": 2209, "filled": true, "fill": "#000000", "strokeWidth": 0, "opacity": 1},
      "encoding": {"x": {"datum": 1042.78, "type": "quantitative", "scale": {"domain": [622.39, 1042.78], "nice": false, "zero": false}, "axis": null}, "y": {"field": "p", "type": "quantitative", "title": null}}
    },
    {
      "data": {"name": "tags"},
      "transform": [{"filter": "datum.bg == 'magenta'"}],
      "mark": {"type": "point", "shape": "M 0.2 -0.33 L 2 -0.33 L 2 0.33 L 0.2 0.33 Z", "size": 2209, "filled": true, "fill": "#FF00FF", "strokeWidth": 0, "opacity": 1},
      "encoding": {"x": {"datum": 1042.78, "type": "quantitative", "scale": {"domain": [622.39, 1042.78], "nice": false, "zero": false}, "axis": null}, "y": {"field": "p", "type": "quantitative", "title": null}}
    },
    {
      "data": {"name": "tags"},
      "mark": {"type": "text", "align": "left", "baseline": "middle", "dx": 5, "color": "#ffffff", "font": "Liberation Sans", "fontSize": 11.5},
      "encoding": {"x": {"datum": 1042.78, "type": "quantitative", "scale": {"domain": [622.39, 1042.78], "nice": false, "zero": false}, "axis": null}, "y": {"field": "p", "type": "quantitative", "title": null}, "text": {"field": "txt"}}
    },
    {
      "data": {"values": [{"t": 1035.05, "p": 1651.43, "txt": "5-29 We"}]},
      "mark": {"type": "point", "shape": "M -1 0.05 L 1 0.05 L 1 0.8 L -1 0.8 Z", "size": 2079, "filled": true, "fill": "#000000", "strokeWidth": 0, "opacity": 1},
      "encoding": {"x": {"field": "t", "type": "quantitative", "scale": {"domain": [622.39, 1042.78], "nice": false, "zero": false}, "axis": null}, "y": {"field": "p", "type": "quantitative", "title": null}}
    },
    {
      "data": {"values": [{"t": 1035.05, "p": 1651.43, "txt": "5-29 We"}]},
      "mark": {"type": "text", "align": "center", "baseline": "top", "dy": 3, "color": "#ffffff", "font": "Liberation Sans", "fontSize": 12},
      "encoding": {"x": {"field": "t", "type": "quantitative", "scale": {"domain": [622.39, 1042.78], "nice": false, "zero": false}, "axis": null}, "y": {"field": "p", "type": "quantitative", "title": null}, "text": {"field": "txt"}}
    },
    {
      "data": {"values": [{"t": 1042.78, "p": 1651.43, "txt": "12 L"}]},
      "mark": {"type": "point", "shape": "M 0.92 0.02 L 2 0.02 L 2 0.78 L 0.92 0.78 Z", "size": 2500, "filled": true, "fill": "#1FB41F", "strokeWidth": 0, "opacity": 1},
      "encoding": {"x": {"field": "t", "type": "quantitative", "scale": {"domain": [622.39, 1042.78], "nice": false, "zero": false}, "axis": null}, "y": {"field": "p", "type": "quantitative", "title": null}}
    },
    {
      "data": {"values": [{"t": 1042.78, "p": 1651.43, "txt": "12 L"}]},
      "mark": {"type": "text", "align": "left", "baseline": "top", "dx": 25, "dy": 3, "color": "#000000", "font": "Liberation Sans", "fontSize": 11.5},
      "encoding": {"x": {"field": "t", "type": "quantitative", "scale": {"domain": [622.39, 1042.78], "nice": false, "zero": false}, "axis": null}, "y": {"field": "p", "type": "quantitative", "title": null}, "text": {"field": "txt"}}
    },
    {
      "data": {"values": [{"t": 622.39, "p": 1651.43, "txt": "5:00 28 Tu"}]},
      "mark": {"type": "point", "shape": "M 0 0.04 L 2 0.04 L 2 0.68 L 0 0.68 Z", "size": 2852, "filled": true, "fill": "#000000", "strokeWidth": 0, "opacity": 1},
      "encoding": {"x": {"field": "t", "type": "quantitative", "scale": {"domain": [622.39, 1042.78], "nice": false, "zero": false}, "axis": null}, "y": {"field": "p", "type": "quantitative", "title": null}}
    },
    {
      "data": {"values": [{"t": 622.39, "p": 1651.43, "txt": "5:00 28 Tu"}]},
      "mark": {"type": "text", "align": "left", "baseline": "top", "dx": 0, "dy": 3, "color": "#ffffff", "font": "Liberation Sans", "fontSize": 10.5},
      "encoding": {"x": {"field": "t", "type": "quantitative", "scale": {"domain": [622.39, 1042.78], "nice": false, "zero": false}, "axis": null}, "y": {"field": "p", "type": "quantitative", "title": null}, "text": {"field": "txt"}}
    }
  ],
  "resolve": {"scale": {"x": "independent"}}
}
